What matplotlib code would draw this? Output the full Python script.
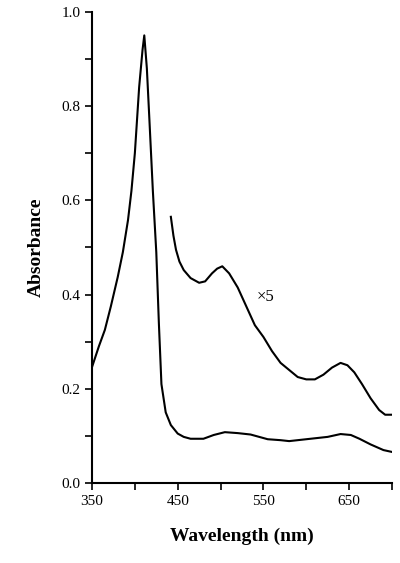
import matplotlib
matplotlib.use("Agg")
import matplotlib.pyplot as plt
import numpy as np

main_wl = [350, 358, 365, 372, 380, 386, 392, 396, 400, 405, 409, 411, 414, 417, 421, 425, 428, 431, 436, 442, 450, 457, 465, 480, 492, 505, 520, 535, 555, 570, 580, 595, 610, 625, 640, 652, 662, 675, 690, 700]
main_ab = [0.246, 0.29, 0.325, 0.375, 0.437, 0.49, 0.558, 0.62, 0.70, 0.84, 0.92, 0.95, 0.88, 0.77, 0.62, 0.49, 0.34, 0.21, 0.15, 0.123, 0.105, 0.098, 0.094, 0.094, 0.102, 0.108, 0.106, 0.103, 0.093, 0.091, 0.089, 0.092, 0.095, 0.098, 0.104, 0.102, 0.094, 0.082, 0.07, 0.066]
x5_wl = [442, 445, 448, 452, 457, 465, 475, 482, 490, 496, 502, 510, 520, 530, 540, 550, 560, 570, 580, 590, 600, 610, 620, 630, 640, 648, 656, 665, 675, 685, 692, 700]
x5_ab = [0.565, 0.525, 0.495, 0.47, 0.452, 0.435, 0.425, 0.428, 0.445, 0.455, 0.46, 0.445, 0.415, 0.375, 0.335, 0.31, 0.28, 0.255, 0.24, 0.225, 0.22, 0.22, 0.23, 0.245, 0.255, 0.25, 0.235, 0.21, 0.18, 0.155, 0.145, 0.145]

plt.rcParams['font.family'] = ['Liberation Serif']
fig = plt.figure(figsize=(4.0, 5.63), dpi=100)
ax = fig.add_axes([0.23, 0.142, 0.75, 0.837])
ax.plot(main_wl, main_ab, color='black', lw=1.5)
ax.plot(x5_wl, x5_ab, color='black', lw=1.5)
ax.text(552, 0.395, '×5', fontsize=12, ha='center', va='center')
ax.set_xlim(350, 700)
ax.set_ylim(0, 1.0)
ax.set_xticks([350, 450, 550, 650])
ax.set_xticks(np.arange(350, 701, 50), minor=True)
ax.set_yticks(np.arange(0, 1.01, 0.2))
ax.set_yticks(np.arange(0, 1.01, 0.1), minor=True)
ax.set_yticklabels(['0.0', '0.2', '0.4', '0.6', '0.8', '1.0'])
ax.tick_params(labelsize=11, direction='out', width=1.2, length=5)
ax.tick_params(which='minor', length=5, width=1.2)
for s in ['top', 'right']:
    ax.spines[s].set_visible(False)
for s in ['left', 'bottom']:
    ax.spines[s].set_linewidth(1.5)
ax.set_xlabel('Wavelength (nm)', fontsize=14, fontweight='bold', labelpad=14)
ax.set_ylabel('Absorbance', fontsize=14, fontweight='bold', labelpad=12)
fig.savefig('out.png', dpi=100)
